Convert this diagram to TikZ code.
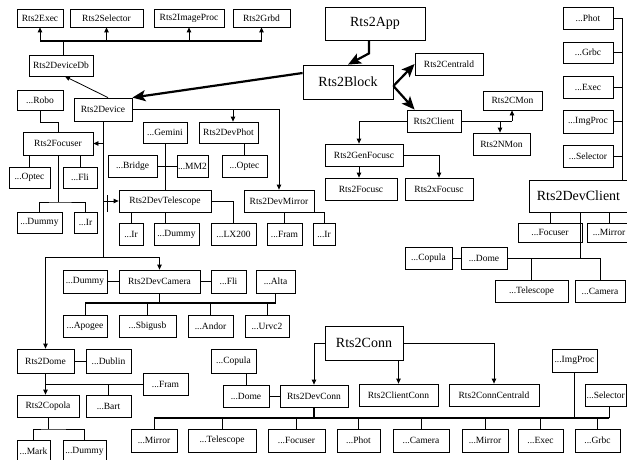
\documentclass[tikz,border=0pt]{standalone}
\usepackage{fontspec}
\setmainfont{Liberation Serif}
\usetikzlibrary{arrows.meta}
\newcommand{\bx}[7][]{\node[box,#1,minimum width={(#5-#3)*1pt},minimum height={(#6-#4)*1pt}] (#2) at ({(#3+#5)/2},{(#4+#6)/2}) {#7};}
\tikzset{
  box/.style={draw, line width=0.8pt, inner sep=0pt, font=\fontsize{9.5}{10}\selectfont},
  big/.style={font=\fontsize{14}{16}\selectfont},
  ln/.style={line width=0.8pt},
  bus/.style={line width=1.3pt},
  arr/.style={ln, -{Triangle[length=5pt,width=4.5pt]}},
  bigarr/.style={line width=2.2pt, -{Stealth[length=13pt,width=11pt,inset=3pt]}}
}
\begin{document}
\begin{tikzpicture}[x=1pt,y=-1pt]
\path[use as bounding box, clip] (0,0) rectangle (627,460);
\fill[white] (0,0) rectangle (627,460);
% ---- top left
\bx{exec}{17}{9}{63}{27}{Rts2Exec}
\bx{selector}{70}{9}{143}{27}{Rts2Selector}
\bx{imageproc}{154}{9}{224}{27}{Rts2ImageProc}
\bx{grbd}{233}{9}{290}{27}{Rts2Grbd}
\bx{devdb}{29}{55}{93}{76}{Rts2DeviceDb}
\bx{robo}{17}{90}{63}{110}{...Robo}
\bx{device}{74}{98}{132}{121}{Rts2Device}
% ---- app / block
\bx[big]{app}{325}{7}{425}{40}{Rts2App}
\bx[big]{block}{303}{65}{393}{99}{Rts2Block}
\bx{centrald}{415}{53}{483}{75}{Rts2Centrald}
\bx{client}{407}{110}{461}{132}{Rts2Client}
\bx{cmon}{483}{91}{542}{110}{Rts2CMon}
\bx{nmon}{473}{133}{530}{155}{Rts2NMon}
\bx{genfocusc}{325}{144}{403}{166}{Rts2GenFocusc}
\bx{focusc}{325}{178}{397}{200}{Rts2Focusc}
\bx{xfocusc}{405}{178}{473}{200}{Rts2xFocusc}
% ---- dev client
\bx{cphot}{563}{7}{613}{29}{...Phot}
\bx{cgrbc}{563}{42}{613}{63}{...Grbc}
\bx{cexec}{563}{76}{613}{98}{...Exec}
\bx{cimgproc}{563}{110}{613}{133}{...ImgProc}
\bx{cselector}{563}{145}{613}{167}{...Selector}
\bx[big]{devclient}{529}{180}{628}{212}{Rts2DevClient}
\bx{cfocuser}{518}{223}{582}{242}{...Focuser}
\bx{cmirror}{587}{223}{631}{242}{...Mirror}
\bx{ccopula}{405}{247}{452}{269}{...Copula}
\bx{cdome}{461}{247}{507}{269}{...Dome}
\bx{ctelescope}{495}{280}{568}{302}{...Telescope}
\bx{ccamera}{575}{280}{625}{302}{...Camera}
% ---- device subtree
\bx{focuser}{23}{132}{93}{155}{Rts2Focuser}
\bx{foptec}{9}{167}{50}{188}{...Optec}
\bx{ffli}{63}{167}{97}{188}{...Fli}
\bx{fdummy}{17}{212}{62}{233}{...Dummy}
\bx{fir}{74}{212}{97}{233}{...Ir}
\bx{gemini}{143}{122}{187}{143}{...Gemini}
\bx{devphot}{199}{122}{258}{143}{Rts2DevPhot}
\bx{bridge}{108}{155}{157}{177}{...Bridge}
\bx{mm2}{177}{155}{208}{177}{...MM2}
\bx{poptec}{222}{155}{267}{177}{...Optec}
\bx{devtel}{119}{190}{211}{212}{Rts2DevTelescope}
\bx{devmirror}{244}{190}{314}{212}{Rts2DevMirror}
\bx{tir}{119}{223}{143}{245}{...Ir}
\bx{tdummy}{154}{223}{199}{245}{...Dummy}
\bx{tlx}{211}{223}{256}{245}{...LX200}
\bx{mfram}{267}{223}{302}{245}{...Fram}
\bx{mir}{313}{223}{335}{245}{...Ir}
\bx{cdummy}{63}{270}{107}{293}{...Dummy}
\bx{devcam}{119}{270}{200}{293}{Rts2DevCamera}
\bx{cfli}{211}{270}{246}{293}{...Fli}
\bx{calta}{256}{270}{295}{293}{...Alta}
\bx{apogee}{63}{315}{107}{337}{...Apogee}
\bx{sbig}{119}{315}{176}{337}{...Sbigusb}
\bx{andor}{188}{315}{233}{337}{...Andor}
\bx{urvc}{245}{315}{289}{337}{...Urvc2}
\bx{dome}{17}{349}{74}{373}{Rts2Dome}
\bx{dublin}{86}{349}{131}{373}{...Dublin}
\bx{dfram}{143}{373}{188}{395}{...Fram}
\bx{copola}{17}{395}{79}{417}{Rts2Copola}
\bx{bart}{86}{395}{131}{417}{...Bart}
\bx{mark}{17}{440}{50}{462}{...Mark}
\bx{ddummy}{63}{440}{106}{462}{...Dummy}
% ---- conn
\bx[big]{conn}{325}{326}{403}{360}{Rts2Conn}
\bx{kcopula}{211}{349}{256}{373}{...Copula}
\bx{kdome}{223}{385}{269}{407}{...Dome}
\bx{devconn}{280}{385}{348}{407}{Rts2DevConn}
\bx{clientconn}{359}{384}{438}{406}{Rts2ClientConn}
\bx{conncentrald}{449}{384}{539}{406}{Rts2ConnCentrald}
\bx{kimgproc}{552}{349}{597}{372}{...ImgProc}
\bx{kselector}{585}{384}{626.5}{406}{...Selector}
\bx{kmirror}{131}{429}{177}{452}{...Mirror}
\bx{ktel}{188}{429}{256}{452}{...Telescope}
\bx{kfocuser}{268}{429}{325}{452}{...Focuser}
\bx{kphot}{337}{429}{380}{452}{...Phot}
\bx{kcamera}{393}{429}{449}{452}{...Camera}
\bx{kmirror2}{462}{429}{508}{452}{...Mirror}
\bx{kexec}{518}{429}{563}{452}{...Exec}
\bx{kgrbc}{575}{429}{620}{452}{...Grbc}

% ================= connectors
% top bus
\coordinate (tbus) at (63,41);
\draw[ln] (devdb.north -| tbus) -- (tbus);
\draw[bus] (exec.south |- tbus) -- (grbd.south |- tbus);
\draw[arr] (exec.south |- tbus) -- (exec.south);
\draw[arr] (selector.south |- tbus) -- (selector.south);
\draw[arr] (imageproc.south |- tbus) -- (imageproc.south);
\draw[arr] (grbd.south |- tbus) -- (grbd.south);
\draw[arr] ([xshift=5pt]device.north) -- ([xshift=4pt]devdb.south);
% big arrows
\draw[bigarr] ([yshift=9pt]block.west) -- (device.north east);
\draw[bigarr] ([xshift=-6pt]app.south) -- ++(0,13) -- (block.north);
\draw[bigarr] ([yshift=-4pt]block.east) -- (centrald.west);
\draw[bigarr] ([yshift=-4pt]block.east) -- ([xshift=8pt]client.north west);
% client
\coordinate (cmj) at (512,121);
\coordinate (nmj) at (500,121);
\draw[ln] (client.east) -- (cmj);
\draw[arr] (cmj) -- (cmj |- cmon.south);
\draw[arr] (nmj) -- (nmj |- nmon.north);
\draw[arr] (client.west) -| ([xshift=-5pt]genfocusc.north);
\draw[arr] ([xshift=-5pt]genfocusc.south) -- ([xshift=-5pt]genfocusc.south |- focusc.north);
\draw[arr] (genfocusc.east) -| (xfocusc.north);
% dev client column
\coordinate (rc) at (622,18);
\draw[ln] (cphot.east) -- (rc) -- (rc |- devclient.north);
\draw[ln] (cgrbc.east) -- (cgrbc.east -| rc);
\draw[ln] (cexec.east) -- (cexec.east -| rc);
\draw[ln] (cimgproc.east) -- (cimgproc.east -| rc);
\draw[ln] (cselector.east) -- (cselector.east -| rc);
\coordinate (dcj) at (580,258);
\draw[ln] (dcj |- devclient.south) -- (dcj) -- (cdome.east);
\draw[ln] (cfocuser.north) -- (cfocuser.north |- devclient.south);
\draw[ln] (cmirror.north) -- (cmirror.north |- devclient.south);
\draw[ln] (ctelescope.north) |- (dcj);
\draw[ln] (ccamera.north) |- (dcj);
\draw[ln] (ccopula) -- (cdome);
% focuser
\draw[ln] (robo.south) -- ++(0,12) -| (focuser.north);
\draw[ln] (foptec.north) -- (foptec.north |- focuser.south);
\draw[ln] (ffli.north) -- (ffli.north |- focuser.south);
\coordinate (fj) at (58,202);
\draw[ln] (focuser.south) -- (fj);
\draw[ln] (fdummy.north) |- (fj) -| (fir.north);
% device trunk
\coordinate (dj) at (103,257);
\draw[ln] (device.south) -- (dj);
\draw[arr] (device.south |- focuser.east) -- (focuser.east);
\draw[arr] (device.south |- devtel.west) -- (devtel.west);
\draw[ln] ([xshift=-11pt,yshift=6pt]devtel.west) -- ([xshift=-11pt,yshift=-11pt]devtel.west);
\draw[arr] (dj) -| (dome.north);
\draw[arr] (dj) -| (devcam.north);
\draw[arr] (device.east) -| (devmirror.north);
\draw[arr] ([xshift=4.5pt]devphot.north |- device.east) -- ([xshift=4.5pt]devphot.north);
% telescope
\draw[ln] (gemini.south) -- (gemini.south |- devtel.north);
\draw[ln] (bridge.east) -- (mm2.west);
\draw[ln] (poptec.north) -- (poptec.north |- devphot.south);
\draw[ln] (tir.north) -- (tir.north |- devtel.south);
\draw[ln] (gemini.south |- tdummy.north) -- (gemini.south |- devtel.south);
\draw[ln] (devtel.east) -| (tlx.north);
\draw[ln] (mfram.north) -- (mfram.north |- devmirror.south);
\draw[ln] (devmirror.south east) -| (mir.north);
% camera
\draw[ln] (cdummy) -- (devcam);
\draw[ln] (devcam) -- (cfli);
\coordinate (cj) at (159.5,303);
\draw[ln] (devcam.south) -- (cj);
\draw[bus] (apogee.north |- cj) -- (calta.south |- cj);
\draw[ln] (apogee.north) -- (apogee.north |- cj);
\draw[ln] (sbig.north) -- (sbig.north |- cj);
\draw[ln] (andor.north) -- (andor.north |- cj);
\draw[ln] (urvc.north) -- (urvc.north |- cj);
\draw[ln] (calta.south) -- (calta.south |- cj);
% dome
\draw[ln] (dome) -- (dublin);
\draw[arr] (dome.south) -- (dome.south |- copola.north);
\draw[ln] (dome.south |- dfram.west) -- (dfram.west);
\draw[ln] (bart.north) -- (bart.north |- dfram.west);
\coordinate (cpj) at (48,429);
\draw[ln] (copola.south) -- (cpj);
\draw[ln] (mark.north) |- (cpj) -| (ddummy.north);
% conn
\draw[arr] (conn.west) -| (devconn.north);
\draw[arr] (clientconn.north |- conn.south) -- (clientconn.north);
\draw[arr] (conn.east) -| (conncentrald.north);
\draw[ln] (kdome.north) -- (kdome.north |- kcopula.south);
\draw[ln] (kdome) -- (devconn);
\coordinate (kbl) at (154,418);
\coordinate (kbr) at (609,418);
\draw[bus] (devconn.south) -- (devconn.south |- kbl);
\draw[bus] (kbl) -- (kbr);
\draw[ln] (kmirror.north) -- (kmirror.north |- kbl);
\draw[ln] (ktel.north) -- (ktel.north |- kbl);
\draw[ln] (kfocuser.north) -- (kfocuser.north |- kbl);
\draw[ln] (kphot.north) -- (kphot.north |- kbl);
\draw[ln] (kcamera.north) -- (kcamera.north |- kbl);
\draw[ln] (kmirror2.north) -- (kmirror2.north |- kbl);
\draw[ln] (kexec.north) -- (kexec.north |- kbl);
\draw[ln] (kgrbc.north) -- (kgrbc.north |- kbl);
\draw[ln] (kimgproc.south) -- (kimgproc.south |- kbl);
\draw[ln] (kbr |- kselector.south) -- (kbr);
\end{tikzpicture}
\end{document}
